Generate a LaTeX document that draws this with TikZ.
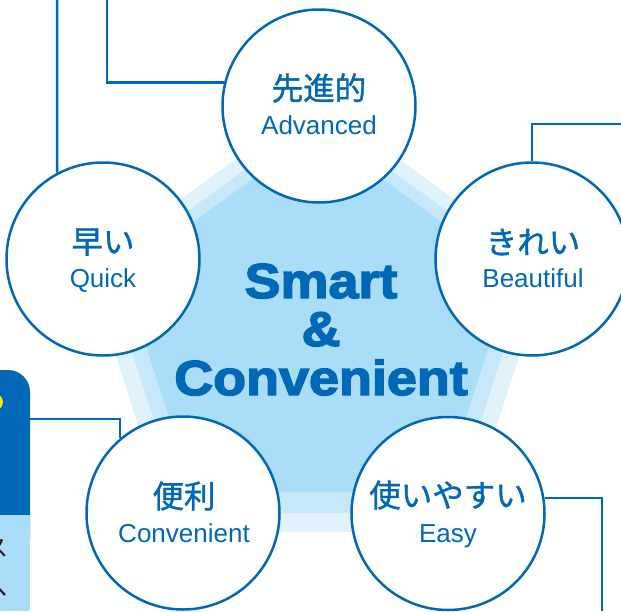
\documentclass[tikz,border=0pt]{standalone}
\usepackage{fontspec}
\setmainfont{Liberation Sans}
\newfontfamily\jpfont[FakeBold=1.2]{Noto Sans CJK JP}
\newfontfamily\jpplain{Noto Sans CJK JP}
\newfontfamily\heavyfont[FakeBold=3,FakeStretch=1.1]{Liberation Sans Bold}
\definecolor{cblue}{RGB}{0,104,183}
\definecolor{pinner}{RGB}{170,222,248}
\definecolor{pmid}{RGB}{198,232,249}
\definecolor{pouter}{RGB}{224,242,251}
\definecolor{boxlight}{RGB}{170,222,248}
\definecolor{dotyellow}{RGB}{255,232,0}
\definecolor{inkdark}{RGB}{35,24,21}
\tikzset{
  feat/.style={circle, draw=cblue, line width=2.5pt, fill=white, minimum size=193pt, inner sep=0pt},
  jp/.style={text=cblue, font=\jpfont\fontsize{31.5}{31.5}\selectfont, inner sep=0pt},
  en/.style={text=cblue, font=\fontsize{26}{26}\selectfont, anchor=base, inner sep=0pt},
  big/.style={text=cblue, font=\heavyfont\fontsize{49}{49}\selectfont, anchor=base, inner sep=0pt},
  frag/.style={text=inkdark, font=\jpplain\fontsize{24}{24}\selectfont, anchor=east, inner sep=0pt},
  link/.style={draw=cblue, line width=2.5pt}
}
\begin{document}
\begin{tikzpicture}[x=1pt,y=-1pt]
\useasboundingbox (0,0) rectangle (621,611);
\clip (0,0) rectangle (621,611);
% pentagon layers
\fill[pouter] (317.5,99.7) -- (548.1,267.4) -- (462.1,532) -- (172.9,532) -- (86.9,267.4) -- cycle;
\fill[pmid] (317.5,116.7) -- (529.5,270.9) -- (450.8,513) -- (184.2,513) -- (105.5,270.9) -- cycle;
\fill[pinner] (317.5,131.7) -- (512.6,273.6) -- (441.6,492) -- (193.4,492) -- (122.4,273.6) -- cycle;
% left panel
\fill[cblue, rounded corners=22pt] (-40,370) rectangle (30,560);
\fill[boxlight] (-40,515) rectangle (30,611);
\fill[dotyellow] (-5,402) circle (8);
\node[frag] (fraga) at (8.5,548) {ス};
\node[frag] (fragb) at (7.5,590) {ヘ};
\coordinate (panelpt) at (30,419);
% circles
\node[feat] (adv) at (319,106) {};
\node[feat] (quick) at (103,259) {};
\node[feat] (beau) at (532,259) {};
\node[feat] (conv) at (183,513) {};
\node[feat] (easy) at (448,513.5) {};
% texts
\node[jp] (advj) at (319,88) {先進的};
\node[en] (adve) at (319,134) {Advanced};
\node[jp] (quickj) at (103,242) {早い};
\node[en] (quicke) at (103,287) {Quick};
\node[jp] (beauj) at (533,242) {きれい};
\node[en] (beaue) at (533,287) {Beautiful};
\node[jp] (convj) at (184,496) {便利};
\node[en] (conve) at (184,542) {Convenient};
\node[jp] (easyj) at (448,495) {使いやすい};
\node[en] (easye) at (448,542) {Easy};
\node[big] (smart) at (321,298) {Smart};
\node[big] (amp) at (321,346) {\&};
\node[big] (convc) at (321,395) {Convenient};
% connectors
\coordinate (advend) at (107,0);
\coordinate (quickend) at (57,0);
\coordinate (beauend) at (621,124);
\coordinate (easyend) at (602,611);
\draw[link] (adv.166.8) -| (advend);
\draw[link] (quick.118.4) -- (quickend);
\draw[link] (beau.90.6) |- (beauend);
\draw[link] (panelpt) -| (conv.130);
\draw[link] (easy.9.9) -| (easyend);
\end{tikzpicture}
\end{document}
